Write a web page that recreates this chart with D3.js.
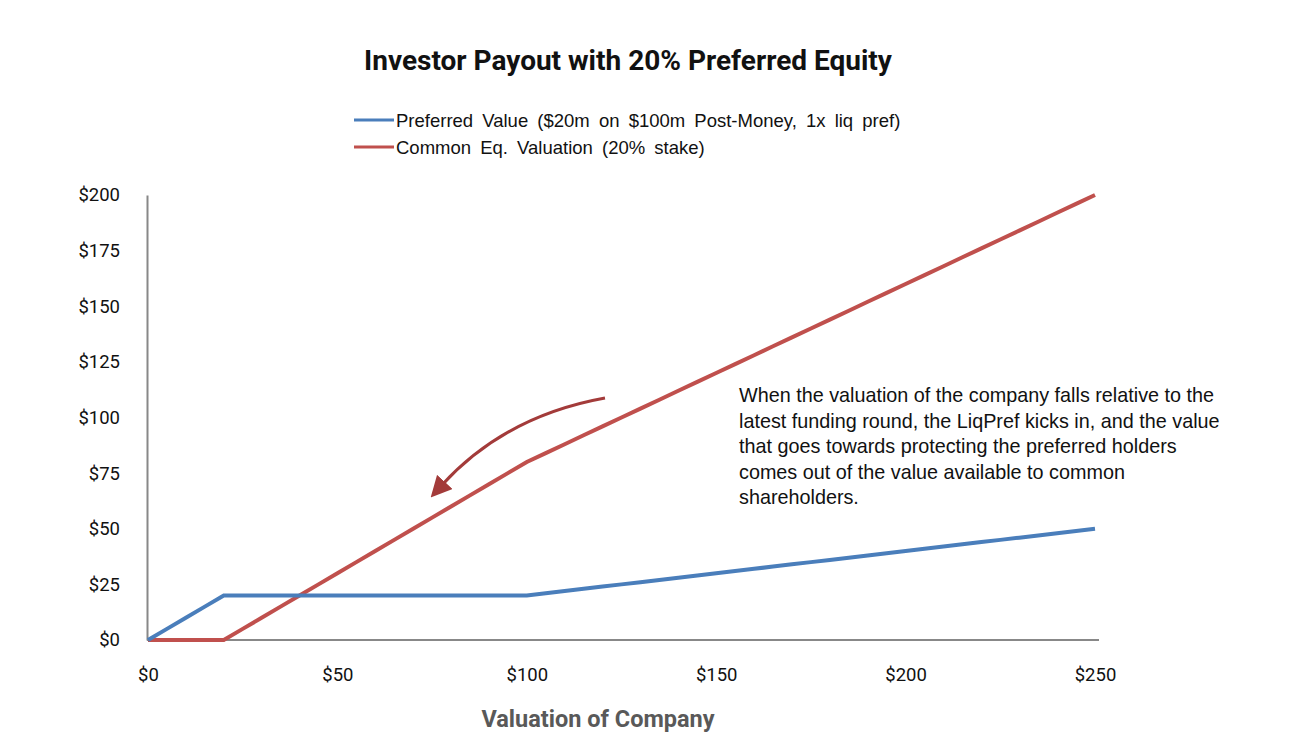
<!DOCTYPE html>
<html>
<head>
<meta charset="utf-8">
<script src="https://cdn.jsdelivr.net/npm/d3@7"></script>
<style>
  body { margin: 0; background: #fff; }
</style>
</head>
<body>
<div id="chart"></div>
<script>
// company valuation ($m), every $5
var valuation = [0,5,10,15,20,25,30,35,40,45,50,55,60,65,70,75,80,85,90,95,100,
  105,110,115,120,125,130,135,140,145,150,155,160,165,170,175,180,185,190,195,200,
  205,210,215,220,225,230,235,240,245,250];
// preferred holder payout
var preferred = [0,5,10,15,20,20,20,20,20,20,20,20,20,20,20,20,20,20,20,20,20,
  21,22,23,24,25,26,27,28,29,30,31,32,33,34,35,36,37,38,39,40,
  41,42,43,44,45,46,47,48,49,50];
// common equity value of the same stake
var common = [0,0,0,0,0,5,10,15,20,25,30,35,40,45,50,55,60,65,70,75,80,
  84,88,92,96,100,104,108,112,116,120,124,128,132,136,140,144,148,152,156,160,
  164,168,172,176,180,184,188,192,196,200];
var xTicks = [0,50,100,150,200,250];
var yTicks = [0,25,50,75,100,125,150,175,200];
var seriesNames = ["Preferred Value ($20m on $100m Post-Money, 1x liq pref)",
                   "Common Eq. Valuation (20% stake)"];
var note = ["When the valuation of the company falls relative to the",
            "latest funding round, the LiqPref kicks in, and the value",
            "that goes towards protecting the preferred holders",
            "comes out of the value available to common",
            "shareholders."];

var w = 1294, h = 747;
var blue = "#4a7ebb", red = "#c0504d";

var svg = d3.select("#chart").append("svg")
    .attr("width", w)
    .attr("height", h);

var x = d3.scaleLinear().domain([0, 250]).range([148, 1095]);
var y = d3.scaleLinear().domain([0, 200]).range([640, 195]);

// title
svg.append("text")
    .attr("x", 628).attr("y", 70)
    .attr("text-anchor", "middle")
    .style("font-family", "Roboto, 'Open Sans', sans-serif")
    .style("font-weight", "bold")
    .style("font-size", "28px")
    .style("fill", "#111")
    .text("Investor Payout with 20% Preferred Equity");

// legend
var legend = svg.selectAll(".legend").data(seriesNames).enter().append("g")
    .attr("transform", function(d, i) { return "translate(354," + (120 + i * 27) + ")"; });
legend.append("line")
    .attr("x1", 0).attr("x2", 40).attr("y1", 0).attr("y2", 0)
    .style("stroke", function(d, i) { return i == 0 ? blue : red; })
    .style("stroke-width", 3);
legend.append("text")
    .attr("x", 42).attr("y", 7)
    .style("font-family", "'Liberation Sans', Arial, sans-serif")
    .style("font-size", "18.5px")
    .style("fill", "#111")
    .style("word-spacing", "4px")
    .text(function(d) { return d; });

// axes
var xAxis = svg.append("g")
    .attr("transform", "translate(0," + y(0) + ")")
    .call(d3.axisBottom(x).tickValues(xTicks).tickSize(0).tickPadding(28)
      .tickFormat(function(d) { return "$" + d; }));
xAxis.select(".domain").attr("d", "M147,0H1099").style("stroke", "#888").style("stroke-width", 2);

var yAxis = svg.append("g")
    .attr("transform", "translate(147,0)")
    .call(d3.axisLeft(y).tickValues(yTicks).tickSize(0).tickPadding(27)
      .tickFormat(function(d) { return "$" + d; }));
yAxis.select(".domain").style("stroke", "#888").style("stroke-width", 2);

svg.selectAll(".tick text")
    .style("font-family", "Roboto, 'Open Sans', sans-serif")
    .style("font-size", "18.5px")
    .style("fill", "#111");

// x axis title
svg.append("text")
    .attr("x", 598).attr("y", 727)
    .attr("text-anchor", "middle")
    .style("font-family", "Roboto, 'Open Sans', sans-serif")
    .style("font-weight", "bold")
    .style("font-size", "23.5px")
    .style("fill", "#595959")
    .text("Valuation of Company");

// lines
var line = d3.line()
    .x(function(d) { return x(d[0]); })
    .y(function(d) { return y(d[1]); });

svg.append("path")
    .datum(d3.zip(valuation, common))
    .attr("d", line)
    .style("fill", "none")
    .style("stroke", red)
    .style("stroke-width", 4);

svg.append("path")
    .datum(d3.zip(valuation, preferred))
    .attr("d", line)
    .style("fill", "none")
    .style("stroke", blue)
    .style("stroke-width", 4);

// arrow
svg.append("defs").append("marker")
    .attr("id", "head")
    .attr("viewBox", "0 0 10 10")
    .attr("refX", 2).attr("refY", 5)
    .attr("markerWidth", 7).attr("markerHeight", 7)
    .attr("orient", "auto")
    .append("path")
    .attr("d", "M0,0L10,5L0,10z")
    .style("fill", "#a33b3a");

svg.append("path")
    .attr("d", "M605,398Q505,416 442,485")
    .style("fill", "none")
    .style("stroke", "#a33b3a")
    .style("stroke-width", 3)
    .attr("marker-end", "url(#head)");

// annotation
svg.append("text")
    .attr("x", 739).attr("y", 402)
    .style("font-family", "'Liberation Sans', Arial, sans-serif")
    .style("font-size", "19.8px")
    .style("fill", "#111")
    .selectAll("tspan").data(note).enter().append("tspan")
    .attr("x", 739)
    .attr("dy", function(d, i) { return i == 0 ? 0 : 25.5; })
    .text(function(d) { return d; });
</script>
</body>
</html>
